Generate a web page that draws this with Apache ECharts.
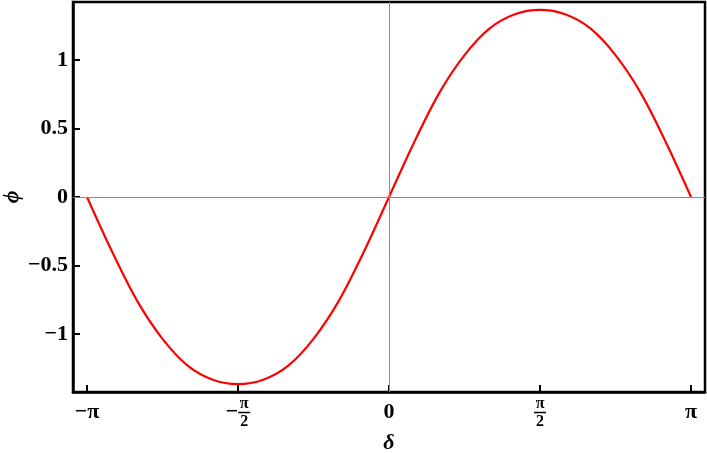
<!DOCTYPE html>
<html>
<head>
<meta charset="utf-8">
<script src="https://cdn.jsdelivr.net/npm/echarts@6/dist/echarts.min.js"></script>
<style>
html, body { margin: 0; padding: 0; background: #fff; }
#main { width: 707px; height: 453px; }
</style>
</head>
<body>
<div id="main"></div>
<script>
var deltaSteps = [-12, -11, -10, -9, -8, -7, -6, -5, -4, -3, -2, -1, 0, 1, 2, 3, 4, 5, 6, 7, 8, 9, 10, 11, 12];
var phiValues = [0, -0.40, -0.76, -1.035, -1.23, -1.333, -1.365, -1.333, -1.23, -1.035, -0.76, -0.40, 0,
	0.40, 0.76, 1.035, 1.23, 1.333, 1.365, 1.333, 1.23, 1.035, 0.76, 0.40, 0];

var xTickValues = [-Math.PI, -Math.PI / 2, 0, Math.PI / 2, Math.PI];
var xTickLabels = ['-pi', '-pi/2', '0', 'pi/2', 'pi'];
var yTickValues = [-1, -0.5, 0, 0.5, 1];

var serif = 'Liberation Serif';

var curve = [];
for (var i = 0; i < deltaSteps.length; i++) {
	curve.push([deltaSteps[i] * Math.PI / 12, phiValues[i]]);
}

function xLabel(value) {
	var idx = 0;
	for (var i = 0; i < xTickValues.length; i++) {
		if (Math.abs(xTickValues[i] - value) < 1e-6) idx = i;
	}
	switch (xTickLabels[idx]) {
		case '-pi': return '{s|\u2212\u03c0}';
		case '0': return '{s|0}';
		case 'pi': return '{s|\u03c0}';
		case '-pi/2': return '{g|\u2212}{n|\u03c0}\n{m|\u2212}{bar| }\n{g|\u2212}{d|2}';
		case 'pi/2': return '{n|\u03c0}\n{bar| }\n{d|2}';
	}
	return '';
}

var myChart = echarts.init(document.getElementById('main'));
var option = {
	animation: false,
	grid: {
		left: 73,
		right: 2,
		top: 2,
		bottom: 61,
		containLabel: false,
		outerBoundsMode: 'none',
		show: true,
		borderColor: '#000',
		borderWidth: 2.5,
		backgroundColor: 'transparent'
	},
	xAxis: {
		type: 'value',
		min: -3.287,
		max: 3.287,
		name: '\u03b4',
		nameLocation: 'middle',
		nameGap: 40,
		nameMoveOverlap: false,
		nameTextStyle: {
			fontFamily: serif,
			fontStyle: 'italic',
			fontWeight: 'bold',
			fontSize: 22,
			color: '#000'
		},
		axisLine: { show: true, onZero: false, lineStyle: { color: '#000', width: 2.5 } },
		splitLine: { show: false },
		axisTick: {
			show: true,
			inside: true,
			length: 7,
			customValues: xTickValues,
			lineStyle: { color: '#000', width: 2 }
		},
		axisLabel: {
			customValues: xTickValues,
			margin: 5,
			formatter: xLabel,
			rich: {
				s: { fontFamily: serif, fontWeight: 'bold', fontSize: 22, color: '#000', lineHeight: 30 },
				g: { fontFamily: serif, fontWeight: 'bold', fontSize: 22, color: 'rgba(0,0,0,0)', lineHeight: 13 },
				m: { fontFamily: serif, fontWeight: 'bold', fontSize: 22, color: '#000', lineHeight: 5 },
				n: { fontFamily: serif, fontWeight: 'bold', fontSize: 16, color: '#000', lineHeight: 13, width: 12, align: 'center' },
				d: { fontFamily: serif, fontWeight: 'bold', fontSize: 16, color: '#000', lineHeight: 14, width: 12, align: 'center' },
				bar: { width: 12, height: 1.5, lineHeight: 5, backgroundColor: '#000', fontSize: 2 }
			}
		}
	},
	yAxis: {
		type: 'value',
		min: -1.423,
		max: 1.423,
		name: '\u03d5',
		nameLocation: 'middle',
		nameRotate: 90,
		nameGap: 50,
		nameMoveOverlap: false,
		nameTextStyle: {
			fontFamily: serif,
			fontStyle: 'italic',
			fontWeight: 'bold',
			fontSize: 22,
			color: '#000'
		},
		axisLine: { show: true, onZero: false, lineStyle: { color: '#000', width: 2.5 } },
		splitLine: { show: false },
		axisTick: {
			show: true,
			inside: true,
			length: 7,
			customValues: yTickValues,
			lineStyle: { color: '#000', width: 2 }
		},
		axisLabel: {
			customValues: yTickValues,
			margin: 5,
			fontFamily: serif,
			fontWeight: 'bold',
			fontSize: 22,
			color: '#000',
			formatter: function(v) {
				return String(v).replace('-', '\u2212');
			}
		}
	},
	series: [{
		type: 'line',
		data: curve,
		smooth: 0.33,
		showSymbol: false,
		silent: true,
		lineStyle: { color: '#ff0000', width: 2.2 },
		markLine: {
			silent: true,
			symbol: 'none',
			label: { show: false },
			lineStyle: { color: '#8c8c8c', width: 1, type: 'solid' },
			data: [{ xAxis: 0 }, { yAxis: 0 }]
		},
		z: 3
	}]
};
myChart.setOption(option);
</script>
</body>
</html>
